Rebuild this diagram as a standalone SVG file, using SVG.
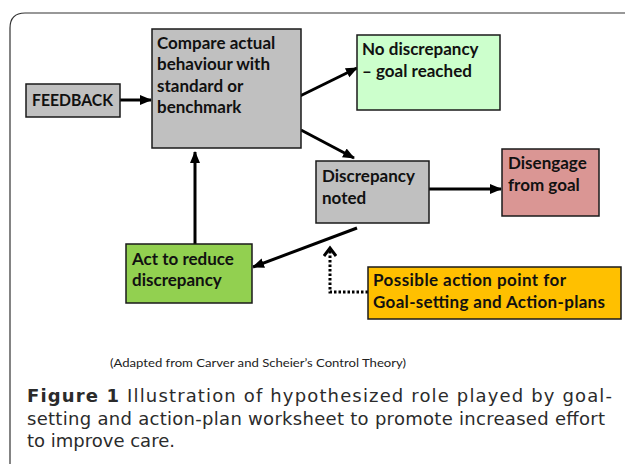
<svg xmlns="http://www.w3.org/2000/svg" width="625" height="464" viewBox="0 0 625 464">
<defs>
<style>
.box{stroke:#1a1a1a;stroke-width:1.5}
.lbl{font-family:Lato,"Liberation Sans",sans-serif;font-weight:bold;font-size:17px;fill:#111}
.conn{stroke:#000;stroke-width:3;fill:none}
.dot{stroke:#000;stroke-width:3;fill:none;stroke-dasharray:2.5 2}
.cap{font-family:"DejaVu Sans","Liberation Sans",sans-serif;font-size:18px;fill:#2b2b2b}
</style>
<marker id="ah" markerUnits="userSpaceOnUse" markerWidth="12" markerHeight="12" viewBox="0 0 12 12" refX="11" refY="6" orient="auto">
<path d="M0,1 L12,6 L0,11 Z" fill="#000"/>
</marker>
<marker id="oh" markerUnits="userSpaceOnUse" markerWidth="14" markerHeight="14" viewBox="0 0 14 14" refX="10" refY="7" orient="auto">
<path d="M2,1 L10,7 L2,13" fill="none" stroke="#000" stroke-width="3"/>
</marker>
</defs>
<rect width="625" height="464" fill="#fff"/>
<path d="M10,464 L10,28 Q10,13 25,13 L625,13" fill="none" stroke="#333" stroke-width="1.2"/>

<g id="connectors">
<line class="conn" x1="120" y1="100" x2="151" y2="100" marker-end="url(#ah)"/>
<line class="conn" x1="300" y1="96" x2="357" y2="68" marker-end="url(#ah)"/>
<line class="conn" x1="301" y1="130" x2="354" y2="158" marker-end="url(#ah)"/>
<line class="conn" x1="429" y1="189" x2="501" y2="189" marker-end="url(#ah)"/>
<line class="conn" x1="357" y1="228" x2="253" y2="267" marker-end="url(#ah)"/>
<line class="conn" x1="195" y1="244" x2="195" y2="152" marker-end="url(#ah)"/>
<path class="dot" d="M368,292 L330,292 L330,248" marker-end="url(#oh)"/>
</g>

<g id="feedback">
<rect class="box" x="26" y="84" width="94" height="33" fill="#c0c0c0"/>
<text class="lbl" x="32" y="106" textLength="81" lengthAdjust="spacingAndGlyphs">FEEDBACK</text>
</g>
<g id="compare">
<rect class="box" x="152" y="29" width="149" height="119" fill="#c0c0c0"/>
<text class="lbl" x="157" y="49">Compare actual</text>
<text class="lbl" x="157" y="70">behaviour with</text>
<text class="lbl" x="157" y="92">standard or</text>
<text class="lbl" x="157" y="113">benchmark</text>
</g>
<g id="no-discrepancy">
<rect class="box" x="357" y="35" width="143" height="75" fill="#ccffcc"/>
<text class="lbl" x="362" y="55">No discrepancy</text>
<text class="lbl" x="362" y="77">– goal reached</text>
</g>
<g id="discrepancy">
<rect class="box" x="316" y="161" width="113" height="62" fill="#c0c0c0"/>
<text class="lbl" x="322" y="182">Discrepancy</text>
<text class="lbl" x="322" y="204">noted</text>
</g>
<g id="disengage">
<rect class="box" x="502" y="149" width="97" height="67" fill="#da9694"/>
<text class="lbl" x="508" y="169">Disengage</text>
<text class="lbl" x="508" y="191">from goal</text>
</g>
<g id="act">
<rect class="box" x="126" y="244" width="126" height="59" fill="#92d050"/>
<text class="lbl" x="132" y="265">Act to reduce</text>
<text class="lbl" x="132" y="286">discrepancy</text>
</g>
<g id="action-point">
<rect class="box" x="368" y="267" width="253" height="52" fill="#ffc000"/>
<text class="lbl" x="373" y="286" textLength="193" lengthAdjust="spacing">Possible action point for</text>
<text class="lbl" x="373" y="308" textLength="232" lengthAdjust="spacing">Goal-setting and Action-plans</text>
</g>

<text x="110" y="367" font-family="Lato,'Liberation Sans',sans-serif" font-size="11" fill="#222" textLength="296" lengthAdjust="spacingAndGlyphs">(Adapted from Carver and Scheier’s Control Theory)</text>

<text class="cap" x="27" y="402" textLength="585" lengthAdjust="spacing"><tspan font-weight="bold">Figure 1</tspan> Illustration of hypothesized role played by goal-</text>
<text class="cap" x="27" y="424.5" textLength="578" lengthAdjust="spacing">setting and action-plan worksheet to promote increased effort</text>
<text class="cap" x="27" y="447">to improve care.</text>
</svg>
